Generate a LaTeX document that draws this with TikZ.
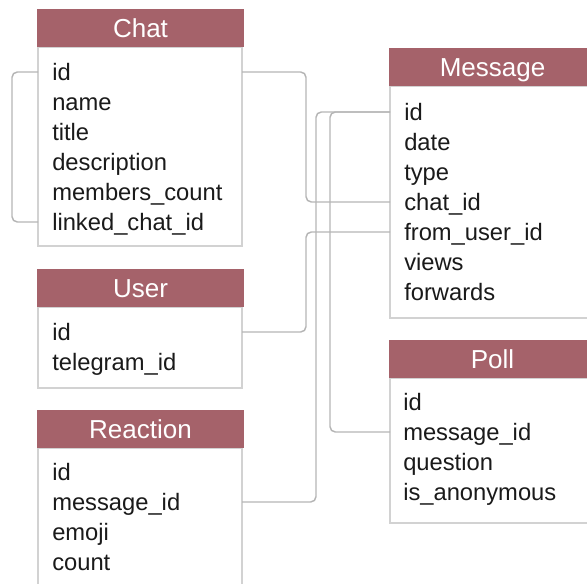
\documentclass[tikz,border=0pt]{standalone}
\usepackage{fontspec}
\setmainfont{Liberation Sans}
\usepackage{tikz}
\definecolor{headred}{HTML}{A5626A}
\definecolor{boxgray}{HTML}{D2D2D2}
\definecolor{linegray}{HTML}{B5B5B5}
\definecolor{textblack}{HTML}{1A1A1A}
\tikzset{
	body/.style={draw=boxgray, line width=2.2pt, fill=white, anchor=north west,
		inner sep=0pt, outer sep=0pt, minimum width=153pt},
	header/.style={fill=headred, text=white, anchor=north west, inner sep=0pt, outer sep=0pt,
		minimum width=155.25pt, minimum height=28.5pt, text height=14pt, text depth=0pt,
		font=\fontsize{19.5}{20}\selectfont},
	field/.style={anchor=west, inner sep=0pt, text=textblack, text height=12.7pt, text depth=0pt,
		font=\fontsize{17.8}{21}\selectfont},
	link/.style={draw=linegray, line width=1.1pt, rounded corners=4pt}
}
\begin{document}
\begin{tikzpicture}[x=0.75pt, y=-0.75pt]
		%%%%% START %%%%%
		\useasboundingbox (0, 0) rectangle (587, 584);
		
		% Chat
		\node[body, minimum height=149.25pt] (chat) at (38, 47) {};
		\node[header] (chat-head) at (37, 9) {Chat};
		\foreach \f [count=\i] in {id, name, title, description, members\_count, linked\_chat\_id}
			\node[field] (chat-\i) at (52, {42+30*\i}) {\f};
		
		% User
		\node[body, minimum height=60.75pt] (user) at (38, 307) {};
		\node[header] (user-head) at (37, 269) {User};
		\foreach \f [count=\i] in {id, telegram\_id}
			\node[field] (user-\i) at (52, {302+30*\i}) {\f};
		
		% Reaction
		\node[body, minimum height=150pt] (reaction) at (38, 448) {};
		\node[header] (reaction-head) at (37, 410) {Reaction};
		\foreach \f [count=\i] in {id, message\_id, emoji, count}
			\node[field] (reaction-\i) at (52, {442+30*\i}) {\f};
		
		% Message
		\node[body, minimum height=174pt] (msg) at (390, 86) {};
		\node[header] (msg-head) at (389, 48) {Message};
		\foreach \f [count=\i] in {id, date, type, chat\_id, from\_user\_id, views, forwards}
			\node[field] (msg-\i) at (404, {82+30*\i}) {\f};
		
		% Poll
		\node[body, minimum height=108.75pt] (poll) at (390, 378) {};
		\node[header] (poll-head) at (389, 340) {Poll};
		\foreach \f [count=\i] in {id, message\_id, question, is\_anonymous}
			\node[field] (poll-\i) at (403, {372+30*\i}) {\f};
		
		% links
		\draw[link] (chat.west |- chat-1) -- ++(-26, 0) |- (chat.west |- chat-6);
		\draw[link] (chat.east |- chat-1) -- ++(64, 0) |- (msg.west |- msg-4);
		\draw[link] (user.east |- user-1) -- ++(64, 0) |- (msg.west |- msg-5);
		\draw[link] (reaction.east |- reaction-2) -- ++(74, 0) |- (msg.west |- msg-1);
		\draw[link] (poll.west |- poll-2) -- ++(-60, 0) |- (msg.west |- msg-1);
		
		%%%%% END %%%%%
	\end{tikzpicture}
\end{document}
